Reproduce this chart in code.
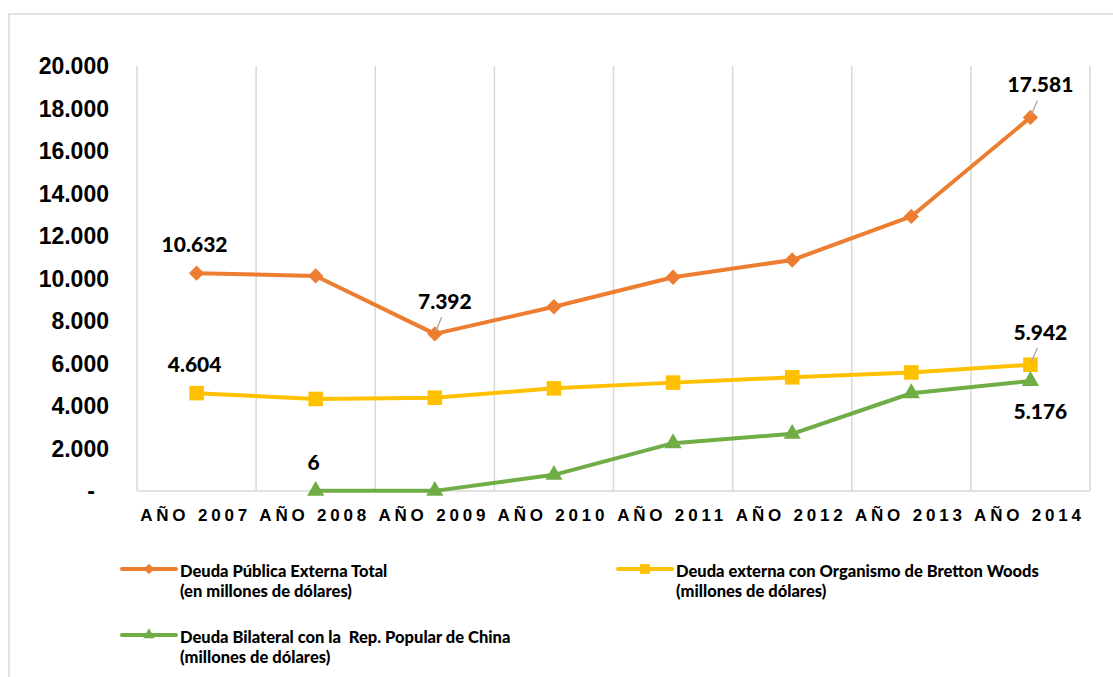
<!DOCTYPE html>
<html>
<head>
<meta charset="utf-8">
<script src="https://cdn.jsdelivr.net/npm/d3@7"></script>
<style>
  body { margin: 0; background: #fff; }
  svg { display: block; }
  .tick-y { font-family: "Liberation Sans", Arial, sans-serif; font-weight: bold; font-size: 23px; fill: #000; }
  .tick-x { font-family: "Liberation Sans", Arial, sans-serif; font-weight: bold; font-size: 17px; letter-spacing: 3.8px; fill: #000; }
  .dlabel { font-family: Lato, "Open Sans", sans-serif; font-weight: 900; font-size: 21px; fill: #000; }
  .legend-text { font-family: Lato, "Open Sans", sans-serif; font-weight: 900; font-size: 16.5px; fill: #000; }
</style>
</head>
<body>
<div id="chart"></div>
<script>
////////////////////////////  Data  ////////////////////////////
const years = ["2007", "2008", "2009", "2010", "2011", "2012", "2013", "2014"];
const yTicks = [0, 2000, 4000, 6000, 8000, 10000, 12000, 14000, 16000, 18000, 20000];

const deudaTotal = [10250, 10120, 7392, 8670, 10060, 10870, 12920, 17581];
const deudaBretton = [4604, 4330, 4390, 4830, 5100, 5350, 5580, 5942];
const deudaChina = [null, 6, 6, 760, 2250, 2690, 4600, 5176];

const seriesNames = [
  ["Deuda Pública Externa Total", "(en millones de dólares)"],
  ["Deuda externa con Organismo de Bretton Woods", "(millones de dólares)"],
  ["Deuda Bilateral con la  Rep. Popular de China", "(millones de dólares)"],
];

// data labels: series index, year, text, placement
const dataLabels = [
  [0, "2007", "10.632", "above"],
  [0, "2009", "7.392", "leader"],
  [0, "2014", "17.581", "leader"],
  [1, "2007", "4.604", "above"],
  [1, "2014", "5.942", "leader"],
  [2, "2008", "6", "above"],
  [2, "2014", "5.176", "below"],
];

////////////////////////////  Init  ////////////////////////////
const width = 1113;
const height = 677;
const margin = { top: 66, right: 23, bottom: 186, left: 137 };

const colors = ["#ED7D31", "#FFC000", "#70AD47"];
const allSeries = [deudaTotal, deudaBretton, deudaChina];

const svg = d3
  .select("#chart")
  .append("svg")
  .attr("width", width)
  .attr("height", height);

// outer chart frame
svg
  .append("rect")
  .attr("x", 9)
  .attr("y", 14)
  .attr("width", width + 20)
  .attr("height", height + 20)
  .attr("fill", "none")
  .attr("stroke", "#d9d9d9")
  .attr("stroke-width", 1.5);

const x = d3
  .scaleBand()
  .domain(years)
  .range([margin.left, width - margin.right]);

const y = d3
  .scaleLinear()
  .domain([0, 20000])
  .range([height - margin.bottom, margin.top]);

const locale = d3.formatLocale({
  decimal: ",",
  thousands: ".",
  grouping: [3],
  currency: ["", ""],
});
const fmt = locale.format(",");

// vertical gridlines at category borders
const borders = years.map((d) => x(d)).concat([x.range()[1]]);
svg
  .selectAll(".vgrid")
  .data(borders)
  .enter()
  .append("line")
  .attr("x1", (d) => d)
  .attr("x2", (d) => d)
  .attr("y1", y(20000))
  .attr("y2", y(0))
  .attr("stroke", "#d9d9d9")
  .attr("stroke-width", 1.5);

// baseline
svg
  .append("line")
  .attr("x1", x.range()[0])
  .attr("x2", x.range()[1])
  .attr("y1", y(0))
  .attr("y2", y(0))
  .attr("stroke", "#d9d9d9")
  .attr("stroke-width", 1.5);

// y tick labels
svg
  .selectAll(".tick-y")
  .data(yTicks)
  .enter()
  .append("text")
  .attr("class", "tick-y")
  .attr("x", (d) => (d === 0 ? 95 : 109))
  .attr("y", (d) => y(d))
  .attr("dy", "0.36em")
  .attr("text-anchor", "end")
  .text((d) => (d === 0 ? "-" : fmt(d)));

// x tick labels
svg
  .selectAll(".tick-x")
  .data(years)
  .enter()
  .append("text")
  .attr("class", "tick-x")
  .attr("x", (d) => x(d) + x.bandwidth() / 2 - 1)
  .attr("y", 521)
  .attr("text-anchor", "middle")
  .text((d) => "AÑO " + d);

////////////////////////////  Lines  ////////////////////////////
const cx = (i) => x(years[i]) + x.bandwidth() / 2;

const line = d3
  .line()
  .defined((d) => d !== null)
  .x((d, i) => cx(i))
  .y((d) => y(d));

allSeries.forEach((s, k) => {
  svg
    .append("path")
    .datum(s)
    .attr("d", line)
    .attr("fill", "none")
    .attr("stroke", colors[k])
    .attr("stroke-width", 4)
    .attr("stroke-linejoin", "round");
});

// markers
const markerShape = [d3.symbolDiamond2, d3.symbolSquare2, d3.symbolTriangle2];
const markerSize = [150, 270, 210];

allSeries.forEach((s, k) => {
  svg
    .selectAll(".m" + k)
    .data(s.map((v, i) => ({ v, i })).filter((d) => d.v !== null))
    .enter()
    .append("path")
    .attr("transform", (d) => `translate(${cx(d.i)},${y(d.v)})`)
    .attr("d", d3.symbol().type(markerShape[k]).size(markerSize[k]))
    .attr("fill", colors[k]);
});

////////////////////////////  Data labels  ////////////////////////////
dataLabels.forEach(([k, yr, txt, place]) => {
  const i = years.indexOf(yr);
  const px = cx(i);
  const py = y(allSeries[k][i]);
  let tx = px - 2,
    ty = py - 21;
  if (place === "leader") {
    tx = px + 10;
    ty = py - 25;
    svg
      .append("line")
      .attr("x1", px + 7)
      .attr("y1", py - 17)
      .attr("x2", px + 1)
      .attr("y2", py - 3)
      .attr("stroke", "#a6a6a6")
      .attr("stroke-width", 1.3);
  } else if (place === "below") {
    tx = px + 10;
    ty = py + 38;
  }
  svg
    .append("text")
    .attr("class", "dlabel")
    .attr("x", tx)
    .attr("y", ty)
    .attr("text-anchor", "middle")
    .text(txt);
});

////////////////////////////  Legend  ////////////////////////////
const legendPos = [
  { x: 122, y: 569 },
  { x: 618, y: 569 },
  { x: 122, y: 635 },
];

legendPos.forEach((p, k) => {
  const g = svg.append("g").attr("transform", `translate(${p.x},${p.y})`);
  g.append("line")
    .attr("x1", 0)
    .attr("x2", 54)
    .attr("stroke", colors[k])
    .attr("stroke-width", 4)
    .attr("stroke-linecap", "round");
  g.append("path")
    .attr("transform", "translate(27,0)")
    .attr("d", d3.symbol().type(markerShape[k]).size(markerSize[k] * 0.45))
    .attr("fill", colors[k]);
  seriesNames[k].forEach((t, j) => {
    g.append("text")
      .attr("class", "legend-text")
      .attr("x", 58)
      .attr("y", 8 + j * 20)
      .style("white-space", "pre")
      .text(t);
  });
});
</script>
</body>
</html>
